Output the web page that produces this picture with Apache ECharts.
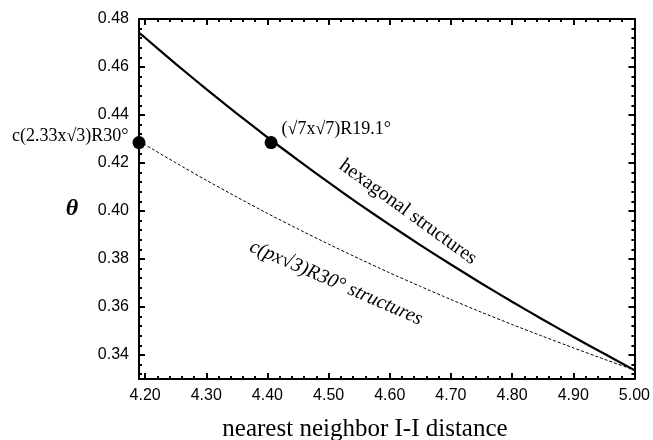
<!DOCTYPE html>
<html>
<head>
<meta charset="utf-8">
<script src="https://cdn.jsdelivr.net/npm/echarts@6/dist/echarts.min.js"></script>
<style>html,body{margin:0;padding:0;background:#fff}#c{width:653px;height:440px}</style>
</head>
<body>
<div id="c"></div>
<script>
// nearest neighbor I-I distance (Å)
const distances = [4.19, 4.20, 4.25, 4.30, 4.35, 4.40, 4.45, 4.50, 4.55, 4.60, 4.65, 4.70, 4.75, 4.80, 4.85, 4.90, 4.95, 5.00];
// hexagonal structures (solid)
const hexTheta = [0.4742, 0.4722, 0.4613, 0.4508, 0.4406, 0.4307, 0.4212, 0.4119, 0.4029, 0.3942, 0.3858, 0.3777, 0.3698, 0.3622, 0.3548, 0.3476, 0.3406, 0.3337];
// c(p x sqrt3)R30 structures (dashed)
const cTheta = [0.4290, 0.4276, 0.4201, 0.4128, 0.4058, 0.3990, 0.3925, 0.3862, 0.3801, 0.3742, 0.3686, 0.3631, 0.3578, 0.3527, 0.3478, 0.3430, 0.3383, 0.3337];
// marked structures
const markerNames = ['c(2.33x\u221A3)R30\u00B0', '(\u221A7x\u221A7)R19.1\u00B0'];
const markerX = [4.19, 4.406];
const markerY = [0.4285, 0.4285];
// ticks
const xMajorTicks = [4.20, 4.30, 4.40, 4.50, 4.60, 4.70, 4.80, 4.90, 5.00];
const xMinorTicks = [4.22, 4.24, 4.26, 4.28, 4.32, 4.34, 4.36, 4.38, 4.42, 4.44, 4.46, 4.48, 4.52, 4.54, 4.56, 4.58, 4.62, 4.64, 4.66, 4.68, 4.72, 4.74, 4.76, 4.78, 4.82, 4.84, 4.86, 4.88, 4.92, 4.94, 4.96, 4.98];
const yMajorTicks = [0.34, 0.36, 0.38, 0.40, 0.42, 0.44, 0.46, 0.48];
const yMinorTicks = [0.332, 0.336, 0.344, 0.348, 0.352, 0.356, 0.364, 0.368, 0.372, 0.376, 0.384, 0.388, 0.392, 0.396, 0.404, 0.408, 0.412, 0.416, 0.424, 0.428, 0.432, 0.436, 0.444, 0.448, 0.452, 0.456, 0.464, 0.468, 0.472, 0.476];

const X_MIN = 4.19, X_MAX = 5.00, Y_MIN = 0.33, Y_MAX = 0.48;
const sans = 'Liberation Sans';
const serif = 'Liberation Serif';

function xAxisDef(pos, ticks, len, showLabel, showLine) {
  return {
    type: 'value', position: pos, min: X_MIN, max: X_MAX,
    axisLine: { show: showLine, onZero: false, lineStyle: { color: '#000', width: 2 } },
    axisTick: { show: true, inside: true, length: len, customValues: ticks, lineStyle: { color: '#000', width: 2 } },
    axisLabel: { show: showLabel, customValues: ticks, margin: 9, color: '#000', fontFamily: sans, fontSize: 16,
      formatter: v => v.toFixed(2) },
    splitLine: { show: false }
  };
}
function yAxisDef(pos, ticks, len, showLabel, showLine) {
  return {
    type: 'value', position: pos, min: Y_MIN, max: Y_MAX,
    axisLine: { show: showLine, onZero: false, lineStyle: { color: '#000', width: 2 } },
    axisTick: { show: true, inside: true, length: len, customValues: ticks, lineStyle: { color: '#000', width: 2 } },
    axisLabel: { show: showLabel, customValues: ticks, margin: 10, color: '#000', fontFamily: sans, fontSize: 16,
      formatter: v => v.toFixed(2) },
    splitLine: { show: false }
  };
}

const hexData = distances.map((d, i) => [d, hexTheta[i]]);
const cData = distances.map((d, i) => [d, cTheta[i]]);
const labelPositions = ['left', 'right'];
const labelOffsets = [[0, -6], [0, -13]];
const markerData = markerX.map((x, i) => ({
  value: [x, markerY[i]], name: markerNames[i],
  label: { show: true, position: labelPositions[i], distance: 4, offset: labelOffsets[i],
    color: '#000', fontFamily: serif, fontSize: 18, formatter: markerNames[i] }
}));

const chart = echarts.init(document.getElementById('c'), null, { renderer: 'canvas' });
chart.setOption({
  animation: false,
  backgroundColor: '#fff',
  grid: { left: 139, top: 19, width: 496, height: 360, show: false },
  xAxis: [
    xAxisDef('bottom', xMajorTicks, 6, true, true),
    xAxisDef('bottom', xMinorTicks, 3, false, false),
    xAxisDef('top', xMajorTicks, 6, false, true),
    xAxisDef('top', xMinorTicks, 3, false, false)
  ],
  yAxis: [
    yAxisDef('left', yMajorTicks, 6, true, true),
    yAxisDef('left', yMinorTicks, 3, false, false),
    yAxisDef('right', yMajorTicks, 6, false, true),
    yAxisDef('right', yMinorTicks, 3, false, false)
  ],
  series: [
    { type: 'line', data: hexData, showSymbol: false, smooth: 0.2, lineStyle: { color: '#000', width: 2.2 }, z: 3 },
    { type: 'line', data: cData, showSymbol: false, smooth: 0.2, lineStyle: { color: '#000', width: 1, type: [3, 2] }, z: 3 },
    { type: 'scatter', data: markerData, symbol: 'circle', symbolSize: 13, itemStyle: { color: '#000', opacity: 1 }, z: 5, clip: false,
      emphasis: { disabled: true } }
  ],
  graphic: [
    { type: 'text', x: 365, y: 429,
      style: { text: 'nearest neighbor I-I distance', fill: '#000', font: '25px "Liberation Serif"', textAlign: 'center', textVerticalAlign: 'middle' } },
    { type: 'text', x: 72, y: 209,
      style: { text: '\u03B8', fill: '#000', font: 'italic bold 24px "Liberation Serif"', textAlign: 'center', textVerticalAlign: 'middle' } },
    { type: 'text', x: 408, y: 212, rotation: -36 * Math.PI / 180,
      style: { text: 'hexagonal structures', fill: '#000', font: '20px "Liberation Serif"', textAlign: 'center', textVerticalAlign: 'middle' } },
    { type: 'text', x: 336, y: 283, rotation: -23.5 * Math.PI / 180,
      style: { text: 'c(px\u221A3)R30\u00B0 structures', fill: '#000', font: 'italic 20px "Liberation Serif"', textAlign: 'center', textVerticalAlign: 'middle' } }
  ]
});
</script>
</body>
</html>
